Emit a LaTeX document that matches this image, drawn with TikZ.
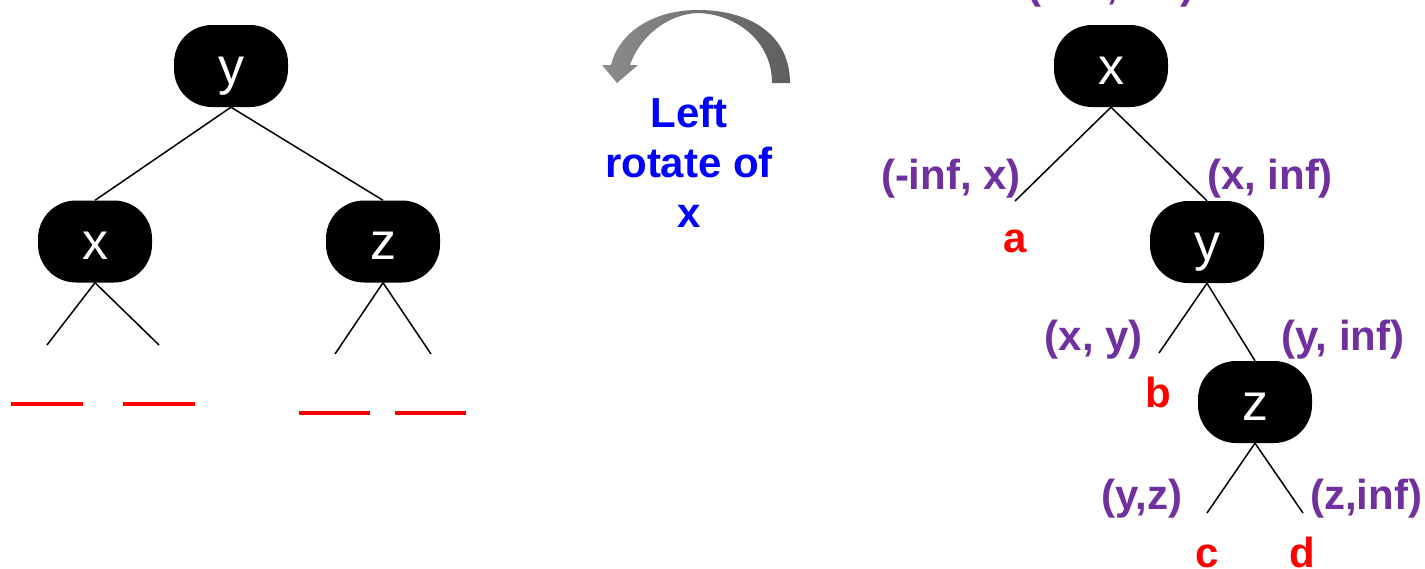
\documentclass[tikz,border=0pt]{standalone}
\usepackage{fontspec}
\setmainfont{Liberation Sans}
\definecolor{rangepurple}{HTML}{7030A0}
\definecolor{arrowlight}{HTML}{8C8C8C}
\definecolor{arrowdark}{HTML}{5E5E5E}
\begin{document}
\begin{tikzpicture}[x=1pt,y=-1pt,
  tnode/.style={rectangle, rounded corners=38pt, fill=black, minimum width=114pt,
    minimum height=82pt, inner sep=0pt, text=white,
    font=\fontsize{52}{52}\selectfont, text height=36pt, text depth=0pt},
  edge/.style={line width=1.5pt},
  slot/.style={red, line width=4pt},
  rangelabel/.style={anchor=base, inner sep=0pt, text=rangepurple,
    font=\bfseries\fontsize{42}{42}\selectfont},
  leaflabel/.style={anchor=base, inner sep=0pt, text=red,
    font=\bfseries\fontsize{42}{42}\selectfont}]
\useasboundingbox (0,0) rectangle (1425,568);

% ---- left tree
\node[tnode] (ly) at (231,66) {y};
\node[tnode] (lx) at (95,241.5) {x};
\node[tnode] (lz) at (383,241.5) {z};
\coordinate (l1) at (47,345);
\coordinate (l2) at (159,345);
\coordinate (l3) at (335,354);
\coordinate (l4) at (431,354);
\draw[edge] (ly.south) -- (lx.north);
\draw[edge] (ly.south) -- (lz.north);
\draw[edge] (lx.south) -- (l1);
\draw[edge] (lx.south) -- (l2);
\draw[edge] (lz.south) -- (l3);
\draw[edge] (lz.south) -- (l4);
\draw[slot] (11,404) -- (83,404);
\draw[slot] (123,404) -- (195,404);
\draw[slot] (299,413) -- (370,413);
\draw[slot] (395,413) -- (466,413);

% ---- rotation arrow
\shade[left color=arrowlight, right color=arrowdark]
  (790,83) .. controls (790,35) and (750,10) .. (698,10)
  .. controls (650,10) and (618,35) .. (611,65)
  -- (602,65) -- (617,83) -- (638,65) -- (630,65)
  .. controls (640,36) and (668,14) .. (698,13)
  .. controls (735,14) and (772,40) .. (772,83) -- cycle;
\node[anchor=base, inner sep=0pt, align=center, text=blue,
  font=\bfseries\fontsize{42}{50}\selectfont] (cap) at (689,227)
  {Left\\rotate of\\x};

% ---- right tree
\node[tnode] (rx) at (1111,66) {x};
\node[tnode] (ry) at (1207,242) {y};
\node[tnode] (rz) at (1255,402) {z};
\coordinate (ca) at (1015,201);
\coordinate (cb) at (1159,353);
\coordinate (cc) at (1207,513);
\coordinate (cd) at (1303,513);
\draw[edge] (rx.south) -- (ca);
\draw[edge] (rx.south) -- (ry.north);
\draw[edge] (ry.south) -- (cb);
\draw[edge] (ry.south) -- (rz.north);
\draw[edge] (rz.south) -- (cc);
\draw[edge] (rz.south) -- (cd);

\node[rangelabel] (r0) at (1111,-2) {(-inf, inf)};
\node[rangelabel] (r1) at (951,189) {(-inf, x)};
\node[rangelabel] (r2) at (1270,189) {(x, inf)};
\node[rangelabel] (r3) at (1094,350) {(x, y)};
\node[rangelabel] (r4) at (1343,350) {(y, inf)};
\node[rangelabel] (r5) at (1142,509) {(y,z)};
\node[rangelabel] (r6) at (1366,509) {(z,inf)};

\node[leaflabel] (na) at (1015,252) {a};
\node[leaflabel] (nb) at (1158,407) {b};
\node[leaflabel] (nc) at (1207,567) {c};
\node[leaflabel] (nd) at (1302,567) {d};
\end{tikzpicture}
\end{document}
